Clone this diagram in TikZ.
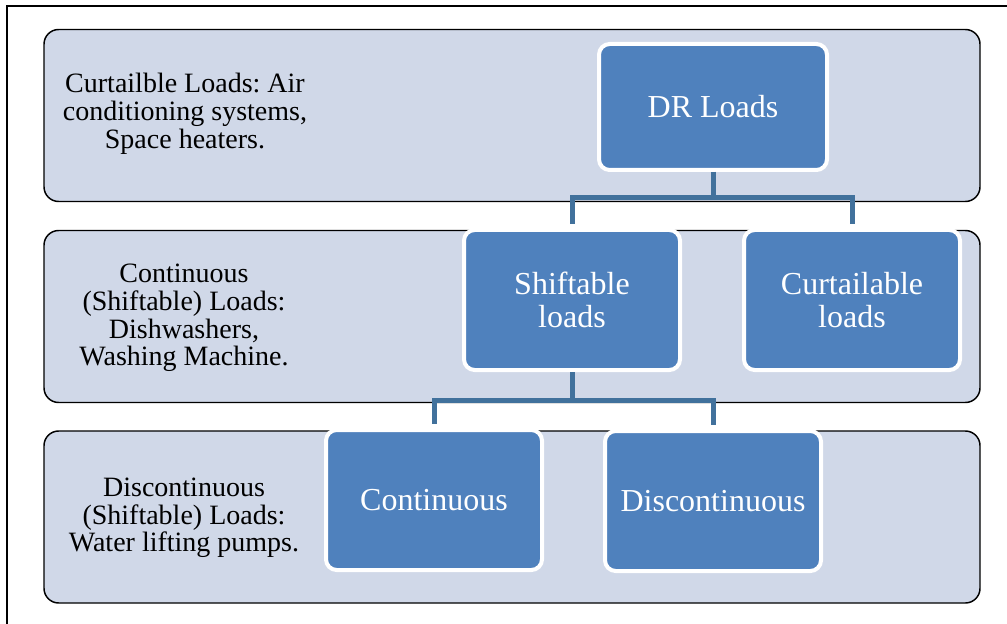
\documentclass[tikz,border=0pt]{standalone}
\usepackage{fontspec}
\setmainfont{Liberation Serif}
\frenchspacing
\definecolor{bandfill}{HTML}{D0D8E8}
\definecolor{boxfill}{HTML}{4F81BD}
\definecolor{linkblue}{HTML}{41719C}

\begin{document}
\begin{tikzpicture}[x=0.75pt, y=-0.75pt,
      band/.style={draw=black, line width=1.1pt, fill=bandfill, rounded corners=11pt, minimum width=702pt, minimum height=129pt},
      tier/.style={align=center, font=\fontsize{21}{20.8}\selectfont},
      box/.style={draw=white, line width=3pt, fill=boxfill, rounded corners=8pt, text=white, align=center, inner sep=0pt, font=\fontsize{24}{25}\selectfont},
      child/.style={box, minimum width=162pt, minimum height=105pt},
      link/.style={draw=linkblue, line width=3.75pt, shorten >=3pt}
    ]
    \useasboundingbox (0,0) rectangle (1007,624);
    \draw[line width=1.1pt] (1007,6) -- (7,6) -- (7,624);

    \node[band] (top) at (512,115.5) {};
    \node[band] (mid) at (512,316.5) {};
    \node[band] (low) at (512,517) {};

    \node[tier] (toplbl) at (185,114) {Curtailble Loads: Air\\conditioning systems,\\Space heaters.};
    \node[tier] (midlbl) at (184,318) {Continuous\\(Shiftable) Loads:\\Dishwashers,\\Washing Machine.};
    \node[tier] (lowlbl) at (184,518) {Discontinuous\\(Shiftable) Loads:\\Water lifting pumps.};

    \node[box, minimum width=171pt, minimum height=94.5pt] (dr) at (713,107) {DR Loads};
    \node[child] (shift) at (572,300) {Shiftable\\loads};
    \node[child] (curt) at (852,300) {Curtailable\\loads};
    \node[child] (cont) at (434,500) {Continuous};
    \node[child] (disc) at (713,501) {Discontinuous};

    \draw[link] (dr.south) -- ++(0,26) -| (shift.north);
    \draw[link] (dr.south) -- ++(0,26) -| (curt.north);
    \draw[link] (shift.south) -- ++(0,28) -| (cont.north);
    \draw[link] (shift.south) -- ++(0,28) -| (disc.north);
  \end{tikzpicture}
\end{document}
